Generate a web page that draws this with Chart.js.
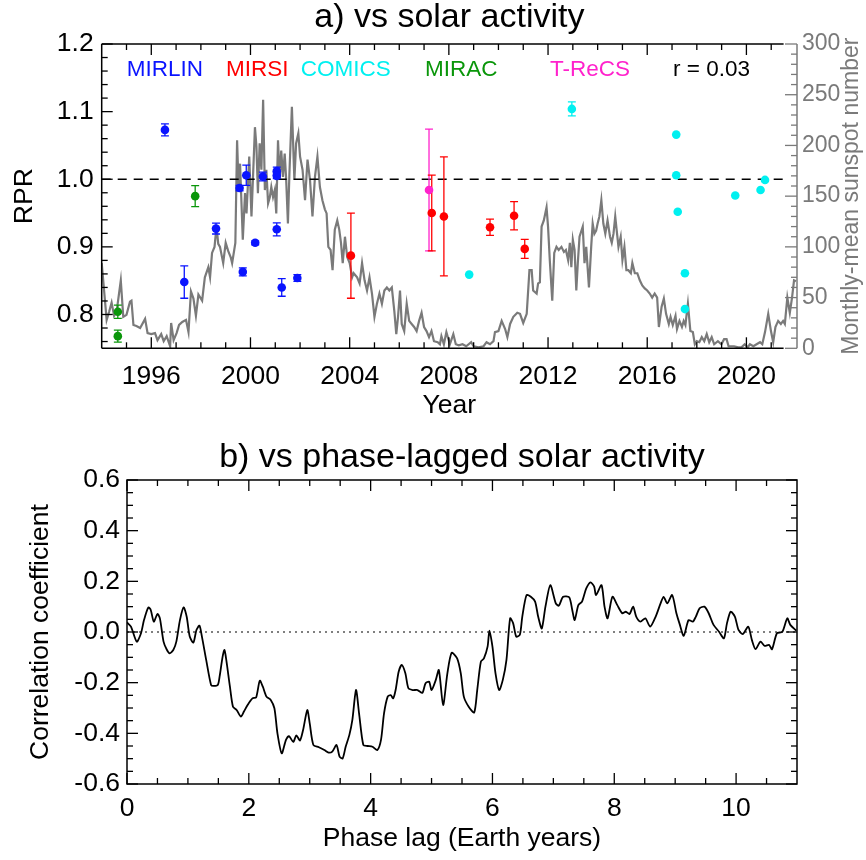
<!DOCTYPE html>
<html><head><meta charset="utf-8">
<script src="https://cdn.jsdelivr.net/npm/chart.js@4.4.1/dist/chart.umd.min.js"></script>
<style>
html,body{margin:0;padding:0;background:#fff;}
#wrap{position:relative;width:866px;height:860px;background:#fff;}
.box{position:absolute;left:0;width:866px;height:430px;}
</style></head><body>
<div id="wrap">
<div class="box" style="top:0"><canvas id="c1" width="866" height="430"></canvas></div>
<div class="box" style="top:430px"><canvas id="c2" width="866" height="430"></canvas></div>
</div>
<script>
// ---------------- DATA ----------------
const yearTicks = [1996, 2000, 2004, 2008, 2012, 2016, 2020];
const rprTicks = [0.8, 0.9, 1.0, 1.1, 1.2];
const sunspotTicks = [0, 50, 100, 150, 200, 250, 300];
const lagTicks = [0, 2, 4, 6, 8, 10];
const corrTicks = [-0.6, -0.4, -0.2, 0.0, 0.2, 0.4, 0.6];

const instrumentNames = ['MIRLIN', 'MIRSI', 'COMICS', 'MIRAC', 'T-ReCS'];
const correlationLabel = 'r = 0.03';

const mirlinYears = [1996.55, 1997.33, 1998.61, 1999.56, 1999.69, 1999.83, 2000.19, 2000.50, 2001.06, 2001.06, 2001.06, 2001.26, 2001.89];
const mirlinRPR   = [1.073, 0.848, 0.927, 0.987, 0.863, 1.006, 0.906, 1.004, 1.012, 1.005, 0.926, 0.840, 0.854];
const mirlinErr   = [0.009, 0.024, 0.008, 0.004, 0.006, 0.015, 0.003, 0.0065, 0.006, 0.004, 0.0096, 0.013, 0.005];

const mirsiYears = [2004.05, 2007.31, 2007.80, 2009.66, 2010.63, 2011.06];
const mirsiRPR   = [0.887, 0.950, 0.945, 0.929, 0.946, 0.897];
const mirsiErr   = [0.063, 0.056, 0.088, 0.012, 0.021, 0.014];

const comicsYears = [2008.82, 2012.96, 2017.17, 2017.17, 2017.23, 2017.52, 2017.52, 2019.55, 2020.57, 2020.75];
const comicsRPR   = [0.859, 1.104, 1.066, 1.006, 0.952, 0.861, 0.808, 0.976, 0.984, 0.999];
const comicsErr   = [0, 0.0103, 0, 0, 0, 0, 0, 0, 0, 0];

const miracYears = [1994.65, 1994.65, 1997.77];
const miracRPR   = [0.804, 0.768, 0.975];
const miracErr   = [0.0098, 0.009, 0.0155];

const trecsYears = [2007.20];
const trecsRPR   = [0.984];
const trecsErr   = [0.09];

const spotYears = [1994.00,1994.20,1994.30,1994.40,1994.50,1994.60,1994.77,1994.87,1995.00,1995.14,1995.20,1995.28,1995.40,1995.55,1995.75,1995.85,
1996.00,1996.15,1996.25,1996.40,1996.50,1996.62,1996.76,1996.80,1996.90,1997.02,1997.12,1997.25,1997.40,1997.50,1997.60,1997.70,1997.80,1997.90,
1998.05,1998.16,1998.30,1998.37,1998.45,1998.55,1998.63,1998.70,1998.77,1998.90,1999.00,1999.10,1999.20,1999.26,1999.39,1999.46,1999.52,1999.58,
1999.69,1999.78,1999.84,1999.95,2000.04,2000.18,2000.24,2000.30,2000.37,2000.44,2000.51,2000.58,2000.64,2000.71,2000.78,2000.84,2000.91,2000.98,
2001.04,2001.11,2001.18,2001.24,2001.31,2001.38,2001.44,2001.51,2001.57,2001.67,2001.73,2001.77,2001.84,2001.93,2002.00,2002.10,2002.20,2002.30,
2002.40,2002.50,2002.60,2002.70,2002.80,2002.90,2003.00,2003.07,2003.14,2003.23,2003.31,2003.40,2003.50,2003.58,2003.65,2003.72,2003.81,2003.90,
2004.00,2004.10,2004.16,2004.30,2004.40,2004.50,2004.60,2004.70,2004.80,2004.90,2005.00,2005.10,2005.20,2005.30,2005.40,2005.50,2005.60,2005.70,
2005.80,2005.88,2005.95,2006.03,2006.10,2006.20,2006.30,2006.40,2006.50,2006.60,2006.70,2006.80,2006.90,2007.00,2007.10,2007.20,2007.30,2007.40,
2007.55,2007.64,2007.70,2007.80,2007.90,2008.04,2008.18,2008.28,2008.40,2008.55,2008.70,2008.90,2009.00,2009.20,2009.40,2009.52,2009.66,2009.80,
2009.86,2010.00,2010.13,2010.27,2010.36,2010.47,2010.60,2010.76,2010.87,2011.00,2011.14,2011.25,2011.34,2011.40,2011.54,2011.60,2011.67,2011.74,
2011.83,2011.94,2012.00,2012.07,2012.17,2012.25,2012.34,2012.43,2012.54,2012.64,2012.72,2012.81,2012.88,2012.94,2013.00,2013.07,2013.14,2013.20,
2013.27,2013.40,2013.47,2013.54,2013.65,2013.74,2013.80,2013.87,2013.94,2014.00,2014.07,2014.15,2014.23,2014.31,2014.40,2014.50,2014.57,2014.64,
2014.71,2014.77,2014.84,2014.93,2015.00,2015.08,2015.16,2015.24,2015.34,2015.40,2015.50,2015.60,2015.70,2015.80,2015.90,2016.00,2016.10,2016.20,
2016.30,2016.40,2016.47,2016.58,2016.67,2016.76,2016.87,2016.94,2017.03,2017.14,2017.20,2017.30,2017.40,2017.47,2017.54,2017.64,2017.74,2017.84,
2017.92,2018.00,2018.10,2018.20,2018.30,2018.40,2018.50,2018.60,2018.70,2018.85,2018.99,2019.10,2019.20,2019.28,2019.40,2019.50,2019.67,2019.80,
2019.93,2020.05,2020.14,2020.28,2020.41,2020.55,2020.64,2020.75,2020.88,2020.99,2021.08,2021.17,2021.28,2021.39,2021.48,2021.55,2021.65,2021.75,
2021.84,2021.92,2022.00];
const spotValues = [84,28,36,45,32,36,67,31,33,46,47,23,22,20,29,15,
14,15,8,14,7,12,2,25,8,15,23,26,28,16,56,49,32,53,
47,70,80,70,94,100,120,103,100,84,104,96,90,84,104,205,159,182,
107,153,133,189,130,218,199,153,202,176,245,156,176,143,149,159,149,156,
133,205,166,195,169,192,166,123,172,238,195,166,202,212,189,176,146,186,
166,130,169,189,159,146,137,133,100,97,77,117,126,117,104,84,110,90,
84,70,74,70,64,84,67,57,70,54,31,44,54,44,57,60,57,60,
37,14,31,57,24,17,44,27,24,21,17,27,35,21,17,11,17,7,
6,4,12,4,16,4,14,4,3,4,2,6,2,1,2,6,4,7,
16,17,27,19,11,24,31,35,34,25,34,77,77,57,54,64,65,120,
126,139,120,87,47,94,100,97,100,95,97,87,104,80,107,97,57,84,
110,120,84,100,60,100,123,113,116,123,130,146,123,113,126,110,104,113,
130,116,100,110,87,100,77,77,74,84,74,74,67,62,59,57,54,50,
54,50,21,41,49,34,24,31,23,32,19,27,21,27,23,44,17,16,
4,7,6,11,7,14,6,11,4,7,4,9,9,2,2,2,1,1,
4,1,4,2,4,6,4,16,34,17,6,21,27,24,27,24,50,35,
50,67,66];

const lagValues = [0.00,0.065,0.16,0.23,0.28,0.35,0.39,0.44,0.50,0.54,0.60,0.65,0.70,0.76,0.81,0.87,0.93,0.98,1.03,1.09,1.14,1.19,1.23,1.30,1.38,1.42,1.49,1.52,1.57,1.60,1.63,1.69,1.74,1.80,1.87,1.92,1.98,2.06,2.12,2.18,2.23,2.29,2.36,2.42,2.47,2.54,2.61,2.66,2.73,2.78,2.84,2.89,2.96,3.00,3.06,3.15,3.24,3.31,3.37,3.44,3.49,3.54,3.59,3.65,3.70,3.76,3.81,3.88,3.95,4.03,4.11,4.17,4.22,4.28,4.33,4.37,4.41,4.46,4.51,4.57,4.62,4.69,4.77,4.85,4.90,4.96,5.00,5.07,5.12,5.19,5.26,5.33,5.42,5.48,5.53,5.61,5.70,5.75,5.81,5.86,5.92,5.95,6.00,6.05,6.11,6.17,6.23,6.29,6.34,6.39,6.45,6.49,6.56,6.63,6.70,6.75,6.81,6.87,6.95,7.04,7.09,7.16,7.26,7.31,7.35,7.41,7.47,7.54,7.61,7.67,7.70,7.79,7.84,7.89,7.97,8.05,8.13,8.19,8.25,8.31,8.36,8.43,8.51,8.59,8.68,8.76,8.81,8.87,8.95,9.02,9.07,9.14,9.22,9.29,9.34,9.40,9.48,9.55,9.63,9.72,9.80,9.85,9.91,9.98,10.04,10.11,10.20,10.26,10.32,10.40,10.47,10.54,10.59,10.67,10.76,10.84,10.89,10.99];
const corrValues = [0.038,0.021,-0.038,-0.005,0.048,0.097,0.087,0.041,0.071,0.054,-0.038,-0.068,-0.084,-0.071,-0.038,0.048,0.097,0.060,-0.018,-0.042,0.008,0.025,-0.018,-0.110,-0.209,-0.213,-0.209,-0.176,-0.097,-0.071,-0.110,-0.216,-0.295,-0.308,-0.334,-0.314,-0.288,-0.262,-0.258,-0.192,-0.216,-0.255,-0.268,-0.301,-0.400,-0.479,-0.426,-0.411,-0.434,-0.408,-0.428,-0.388,-0.308,-0.361,-0.446,-0.455,-0.466,-0.476,-0.472,-0.446,-0.492,-0.499,-0.453,-0.407,-0.347,-0.229,-0.321,-0.446,-0.450,-0.453,-0.466,-0.426,-0.321,-0.255,-0.249,-0.262,-0.229,-0.157,-0.130,-0.163,-0.222,-0.229,-0.229,-0.240,-0.203,-0.196,-0.229,-0.189,-0.150,-0.288,-0.163,-0.082,-0.104,-0.163,-0.255,-0.295,-0.318,-0.229,-0.117,-0.104,-0.058,0.005,-0.058,-0.163,-0.229,-0.189,-0.110,0.054,0.034,-0.018,-0.011,0.061,0.146,0.139,0.120,0.061,0.014,0.100,0.185,0.113,0.104,0.139,0.137,0.087,0.047,0.106,0.120,0.172,0.196,0.179,0.146,0.185,0.100,0.054,0.139,0.106,0.074,0.080,0.071,0.100,0.061,0.041,0.054,0.021,0.061,0.113,0.139,0.113,0.146,0.074,0.034,-0.015,0.047,0.041,0.061,0.093,0.100,0.074,0.028,0.001,-0.025,0.034,0.080,0.061,0.008,-0.008,0.021,-0.032,-0.068,-0.038,-0.055,-0.051,-0.068,-0.005,0.001,0.054,0.028,0.005];

// ---------------- STYLE ----------------
const FONT = '"Liberation Sans", Arial, Helvetica, sans-serif';
const COLORS = {MIRLIN:'#0a14ff', MIRSI:'#ff0000', COMICS:'#00f0f0', MIRAC:'#0a960a', TRECS:'#ff22cc'};
const GREY = '#7a7a7a';
const boxEndYear = 2021.5;

function pts(xs, ys){ return xs.map((x,i)=>({x:x, y:ys[i]})); }
function errSegs(xs, ys, es, cap){
  const d = [];
  xs.forEach((x,i)=>{
    const e = es[i]; if(!e) return; const v = ys[i];
    d.push({x:x,y:v-e},{x:x,y:v+e},{x:x,y:null},
           {x:x-cap,y:v-e},{x:x+cap,y:v-e},{x:x,y:null},
           {x:x-cap,y:v+e},{x:x+cap,y:v+e},{x:x,y:null});
  });
  return d;
}
function steps(a, b, s){ const r=[]; for(let v=a; v<=b+1e-9; v+=s) r.push(Math.round(v*1000)/1000); return r; }
function hTicks(ctx, sc, vals, y, len, dir){ vals.forEach(v=>{ const x=sc.getPixelForValue(v); ctx.beginPath(); ctx.moveTo(x,y); ctx.lineTo(x,y+dir*len); ctx.stroke(); }); }
function vTicks(ctx, sc, vals, x, len, dir){ vals.forEach(v=>{ const y=sc.getPixelForValue(v); ctx.beginPath(); ctx.moveTo(x,y); ctx.lineTo(x+dir*len,y); ctx.stroke(); }); }
function seg(ctx,x1,y1,x2,y2){ ctx.beginPath(); ctx.moveTo(x1,y1); ctx.lineTo(x2,y2); ctx.stroke(); }

const pointDS = (label, xs, ys, color) => ({label, data: pts(xs, ys), backgroundColor: color, borderColor: color, pointRadius: 4.3, pointHoverRadius: 4.3, borderWidth: 0, showLine: false, order: 1});
const errDS = (label, xs, ys, es, color) => ({label: label+' err', data: errSegs(xs, ys, es, 0.16), borderColor: color, borderWidth: 1.3, pointRadius: 0, showLine: true, spanGaps: false, order: 2});

Chart.defaults.font.family = FONT;
Chart.defaults.color = '#000';

// ---------------- TOP CHART ----------------
const topPlugin = {
  id: 'topDeco',
  afterDraw(chart){
    const ctx = chart.ctx, ca = chart.chartArea, x = chart.scales.x, y = chart.scales.y, y2 = chart.scales.y2;
    const xEnd = x.getPixelForValue(boxEndYear);
    ctx.save();
    ctx.strokeStyle = '#000'; ctx.lineWidth = 1.5;
    seg(ctx, ca.left, ca.top, xEnd, ca.top);
    seg(ctx, ca.left, ca.bottom, xEnd, ca.bottom);
    seg(ctx, ca.left, ca.top, ca.left, ca.bottom);
    ctx.lineWidth = 1.3;
    vTicks(ctx, y, rprTicks, ca.left, 11, 1);
    vTicks(ctx, y, steps(0.76, 1.18, 0.02).filter(v=>!rprTicks.some(t=>Math.abs(t-v)<1e-6)), ca.left, 6, 1);
    const minorYears = steps(1995, 2021, 1).filter(v=>!yearTicks.includes(v));
    hTicks(ctx, x, yearTicks, ca.bottom, 11, -1);
    hTicks(ctx, x, minorYears, ca.bottom, 6, -1);
    hTicks(ctx, x, yearTicks, ca.top, 11, 1);
    hTicks(ctx, x, minorYears, ca.top, 6, 1);
    // grey sunspot axis
    ctx.strokeStyle = GREY; ctx.lineWidth = 1.5;
    seg(ctx, ca.right, ca.top, ca.right, ca.bottom);
    ctx.lineWidth = 1.3;
    vTicks(ctx, y2, sunspotTicks, ca.right, 12, -1);
    vTicks(ctx, y2, steps(10, 290, 10).filter(v=>v%50!==0), ca.right, 6, -1);
    // title
    ctx.fillStyle = '#000'; ctx.textAlign = 'center'; ctx.textBaseline = 'middle';
    ctx.font = '34px ' + FONT;
    ctx.fillText('a) vs solar activity', (ca.left+ca.right)/2, 18);
    // legend labels
    ctx.font = '22.5px ' + FONT; ctx.textAlign = 'left';
    const legX = [126.7, 226, 300.7, 425, 550];
    const legC = [COLORS.MIRLIN, COLORS.MIRSI, COLORS.COMICS, COLORS.MIRAC, COLORS.TRECS];
    instrumentNames.forEach((n,i)=>{ ctx.fillStyle = legC[i]; ctx.fillText(n, legX[i], 70); });
    ctx.fillStyle = '#000'; ctx.fillText(correlationLabel, 673, 70);
    // right axis title
    ctx.save();
    ctx.translate(852, (ca.top+ca.bottom)/2);
    ctx.rotate(-Math.PI/2);
    ctx.fillStyle = GREY; ctx.textAlign = 'center'; ctx.font = '23px ' + FONT;
    ctx.fillText('Monthly-mean sunspot number', 0, 0);
    ctx.restore();
    ctx.restore();
  }
};

new Chart(document.getElementById('c1'), {
  type: 'scatter',
  data: { datasets: [
    pointDS('MIRLIN', mirlinYears, mirlinRPR, COLORS.MIRLIN),
    pointDS('MIRSI', mirsiYears, mirsiRPR, COLORS.MIRSI),
    pointDS('COMICS', comicsYears, comicsRPR, COLORS.COMICS),
    pointDS('MIRAC', miracYears, miracRPR, COLORS.MIRAC),
    pointDS('T-ReCS', trecsYears, trecsRPR, COLORS.TRECS),
    errDS('MIRLIN', mirlinYears, mirlinRPR, mirlinErr, COLORS.MIRLIN),
    errDS('MIRSI', mirsiYears, mirsiRPR, mirsiErr, COLORS.MIRSI),
    errDS('COMICS', comicsYears, comicsRPR, comicsErr, COLORS.COMICS),
    errDS('MIRAC', miracYears, miracRPR, miracErr, COLORS.MIRAC),
    errDS('T-ReCS', trecsYears, trecsRPR, trecsErr, COLORS.TRECS),
    {label:'unity', data:[{x:1994,y:1.0},{x:boxEndYear,y:1.0}], borderColor:'#000', borderWidth:1.3, borderDash:[9,7], pointRadius:0, showLine:true, order:3},
    {label:'sunspots', data: pts(spotYears, spotValues), yAxisID:'y2', borderColor: GREY, borderWidth: 2.2, pointRadius: 0, showLine: true, order: 10}
  ]},
  options: {
    responsive: false, animation: false, devicePixelRatio: 1,
    layout: { padding: {top: 44, left: 0, right: 0, bottom: 0} },
    plugins: { legend: {display:false}, tooltip: {enabled:false} },
    scales: {
      x: { type:'linear', min:1994, max:2022.04,
        grid:{display:false, drawTicks:false}, border:{display:false},
        afterBuildTicks: s => { s.ticks = yearTicks.map(v=>({value:v})); },
        afterFit: s => { s.height = 81.7; },
        ticks:{ font:{size:26.5}, color:'#000', padding:12, maxRotation:0, autoSkip:false, callback: v => String(v) },
        title:{ display:true, text:'Year', font:{size:26.5}, color:'#000', padding:{top:0, bottom:8} } },
      y: { position:'left', min:0.75, max:1.2,
        grid:{display:false, drawTicks:false}, border:{display:false},
        afterBuildTicks: s => { s.ticks = rprTicks.map(v=>({value:v})); },
        afterFit: s => { s.width = 101.7; },
        ticks:{ font:{size:26.5}, color:'#000', padding:8, callback: v => Number(v).toFixed(1) },
        title:{ display:true, text:'RPR', font:{size:26.5}, color:'#000', padding:{top:9, bottom:0} } },
      y2: { position:'right', min:0, max:300,
        grid:{display:false, drawTicks:false}, border:{display:false},
        afterBuildTicks: s => { s.ticks = sunspotTicks.map(v=>({value:v})); },
        afterFit: s => { s.width = 69; },
        ticks:{ font:{size:23}, color:GREY, padding:5, callback: v => String(v) },
        title:{ display:false } }
    }
  },
  plugins: [topPlugin]
});

// ---------------- BOTTOM CHART ----------------
const botPlugin = {
  id: 'botDeco',
  afterDraw(chart){
    const ctx = chart.ctx, ca = chart.chartArea, x = chart.scales.x, y = chart.scales.y;
    ctx.save();
    ctx.strokeStyle = '#000'; ctx.lineWidth = 1.5;
    ctx.strokeRect(ca.left, ca.top, ca.right-ca.left, ca.bottom-ca.top);
    ctx.lineWidth = 1.3;
    const minorCorr = steps(-0.55, 0.55, 0.05).filter(v=>!corrTicks.some(t=>Math.abs(t-v)<1e-6));
    vTicks(ctx, y, corrTicks, ca.left, 11, 1);
    vTicks(ctx, y, minorCorr, ca.left, 6, 1);
    vTicks(ctx, y, corrTicks, ca.right, 11, -1);
    vTicks(ctx, y, minorCorr, ca.right, 6, -1);
    const minorLag = steps(0.5, 10.5, 0.5).filter(v=>!lagTicks.includes(v));
    hTicks(ctx, x, lagTicks, ca.bottom, 11, -1);
    hTicks(ctx, x, minorLag, ca.bottom, 6, -1);
    hTicks(ctx, x, lagTicks, ca.top, 11, 1);
    hTicks(ctx, x, minorLag, ca.top, 6, 1);
    ctx.fillStyle = '#000'; ctx.textAlign = 'center'; ctx.textBaseline = 'middle';
    ctx.font = '34px ' + FONT;
    ctx.fillText('b) vs phase-lagged solar activity', (ca.left+ca.right)/2, 28);
    ctx.restore();
  }
};

new Chart(document.getElementById('c2'), {
  type: 'scatter',
  data: { datasets: [
    {label:'correlation', data: pts(lagValues, corrValues), borderColor:'#000', borderWidth:1.8, pointRadius:0, showLine:true, tension:0.25, order:1},
    {label:'zero', data:[{x:0,y:0},{x:11,y:0}], borderColor:'#000', borderWidth:1.2, borderDash:[2,4], pointRadius:0, showLine:true, order:2}
  ]},
  options: {
    responsive: false, animation: false, devicePixelRatio: 1,
    layout: { padding: {top: 50, left: 0, right: 69, bottom: 0} },
    plugins: { legend: {display:false}, tooltip: {enabled:false} },
    scales: {
      x: { type:'linear', min:0, max:11,
        grid:{display:false, drawTicks:false}, border:{display:false},
        afterBuildTicks: s => { s.ticks = lagTicks.map(v=>({value:v})); },
        afterFit: s => { s.height = 76; },
        ticks:{ font:{size:26.5}, color:'#000', padding:9, maxRotation:0, autoSkip:false, callback: v => String(v) },
        title:{ display:true, text:'Phase lag (Earth years)', font:{size:26.5}, color:'#000', padding:{top:0, bottom:5} } },
      y: { position:'left', min:-0.6, max:0.6,
        grid:{display:false, drawTicks:false}, border:{display:false},
        afterBuildTicks: s => { s.ticks = corrTicks.map(v=>({value:v})); },
        afterFit: s => { s.width = 127; },
        ticks:{ font:{size:26.5}, color:'#000', padding:7, callback: v => Number(v).toFixed(1) },
        title:{ display:true, text:'Correlation coefficient', font:{size:26.5}, color:'#000', padding:{top:25, bottom:0} } }
    }
  },
  plugins: [botPlugin]
});
</script>
</body></html>
